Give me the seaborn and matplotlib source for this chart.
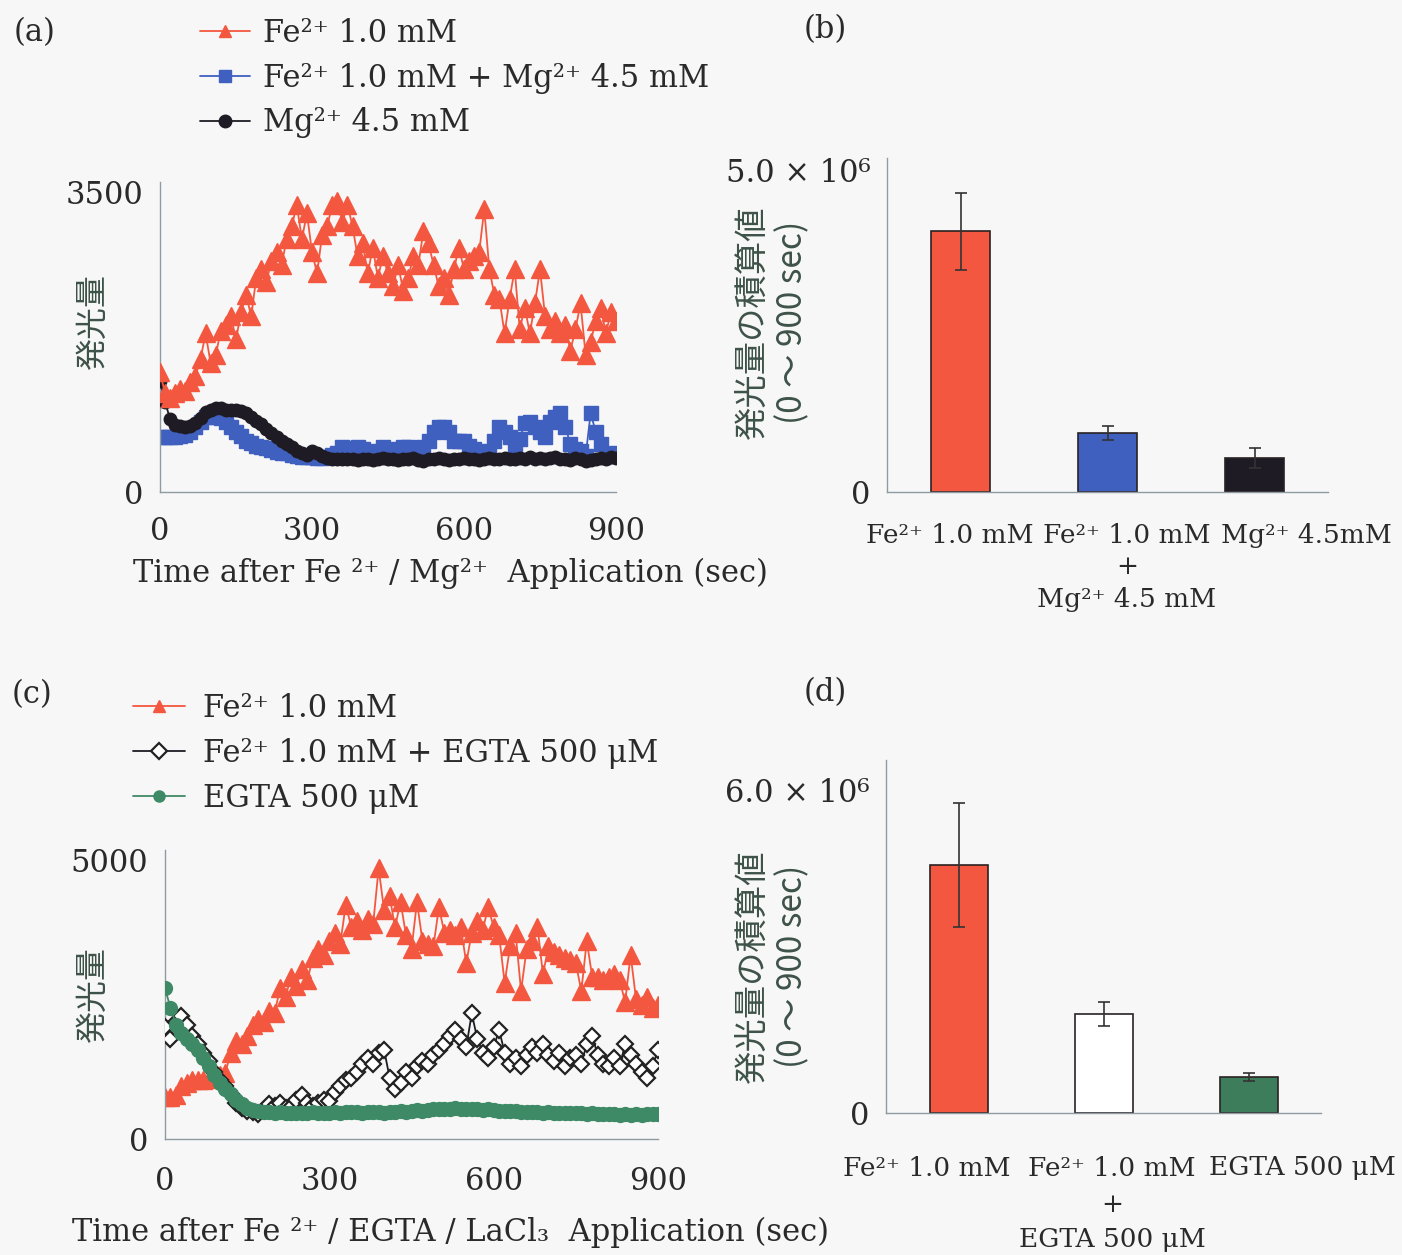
import matplotlib
matplotlib.use('Agg')
import matplotlib.pyplot as plt
import seaborn as sns

# sampling grid (sec)
time_sec = list(range(0, 910, 10))

# panel (a)
fe_a = [1400, 1150, 1100, 1150, 1200, 1180, 1280, 1350, 1550, 1850,
        1500, 1600, 1880, 1950, 2050, 1780, 2100, 2300, 2050, 2500,
        2600, 2450, 2700, 2800, 2650, 2950, 3100, 3350, 2950, 3250,
        2800, 2550, 3000, 3100, 3350, 3400, 3150, 3350, 3100, 2750,
        2900, 2550, 2850, 2500, 2750, 2550, 2400, 2650, 2350, 2500,
        2750, 2650, 3050, 2900, 2650, 2400, 2500, 2300, 2600, 2850,
        2600, 2700, 2750, 2800, 3300, 2600, 2300, 2250, 1850, 2250,
        2600, 1900, 2150, 1850, 2200, 2600, 2050, 1900, 2000, 1850,
        1950, 1650, 1900, 2200, 1600, 1750, 2000, 2150, 1850, 2100,
        2000]
fe_mg_a = [640, 640, 640, 640, 650, 660, 700, 760, 820, 880,
           900, 880, 860, 820, 760, 700, 650, 600, 570, 540,
           520, 510, 490, 470, 460, 450, 430, 420, 410, 410,
           410, 400, 400, 410, 430, 450, 520, 510, 480, 520,
           500, 440, 430, 480, 520, 480, 470, 500, 520, 520,
           460, 430, 520, 600, 700, 760, 760, 700, 600, 600,
           600, 540, 500, 470, 450, 480, 600, 760, 700, 640,
           520, 620, 800, 820, 760, 700, 640, 820, 880, 920,
           760, 560, 500, 480, 420, 920, 700, 560, 420, 430,
           450]
mg_a = [1300, 1050, 850, 780, 770, 760, 770, 800, 860, 930,
        960, 980, 980, 960, 960, 960, 940, 920, 880, 830,
        790, 740, 690, 640, 600, 560, 520, 480, 450, 430,
        480, 460, 420, 400, 390, 390, 380, 380, 380, 370,
        390, 380, 370, 380, 400, 390, 380, 370, 390, 380,
        400, 370, 360, 390, 380, 400, 380, 370, 390, 380,
        400, 390, 380, 370, 390, 400, 380, 390, 400, 390,
        380, 400, 390, 410, 390, 400, 380, 400, 410, 390,
        380, 370, 400, 390, 360, 370, 380, 400, 390, 410,
        400]

# panel (c)
fe_c = [750, 750, 780, 950, 1000, 1050, 1050, 1050, 1080, 1100,
        1150, 1180, 1550, 1750, 1700, 1850, 2050, 2150, 2100, 2300,
        2250, 2700, 2550, 2900, 2750, 3050, 2850, 3250, 3400, 3300,
        3550, 3700, 3500, 4200, 3800, 3900, 3750, 3950, 3850, 4850,
        4100, 4350, 3800, 4250, 3650, 3400, 4250, 3550, 3500, 3450,
        4150, 3700, 3750, 3650, 3800, 3150, 3700, 3900, 3750, 4150,
        3800, 3650, 2800, 3450, 3700, 2650, 3400, 3550, 3800, 2950,
        3450, 3350, 3300, 3250, 3200, 3150, 2650, 3550, 2900, 2900,
        2850, 2900, 2950, 2850, 2450, 3300, 2500, 2400, 2550, 2350,
        2400]
fe_egta_c = [2000, 1800, 2100, 2200, 2050, 1850, 1700, 1550, 1400, 1200,
             1050, 950, 800, 650, 550, 500, 480, 450, 520, 620,
             600, 640, 560, 580, 700, 780, 650, 600, 650, 700,
             680, 850, 950, 1050, 1100, 1200, 1350, 1450, 1350, 1550,
             1600, 1100, 900, 1000, 1200, 1100, 1300, 1400, 1350, 1500,
             1600, 1700, 1850, 1950, 1800, 1650, 2250, 1800, 1550, 1450,
             1650, 1950, 1550, 1350, 1450, 1300, 1500, 1650, 1550, 1700,
             1500, 1400, 1550, 1300, 1450, 1500, 1350, 1700, 1850, 1500,
             1350, 1300, 1450, 1300, 1700, 1500, 1350, 1200, 1100, 1300,
             1600]
egta_c = [2700, 2350, 2050, 1900, 1800, 1700, 1600, 1450, 1300, 1150,
          1000, 900, 800, 700, 620, 560, 520, 500, 490, 480,
          470, 480, 470, 460, 470, 460, 470, 480, 470, 460,
          470, 480, 470, 480, 490, 480, 470, 480, 490, 480,
          470, 480, 490, 500, 490, 500, 520, 510, 520, 530,
          540, 530, 540, 550, 540, 530, 540, 530, 520, 530,
          520, 510, 500, 510, 500, 490, 480, 490, 480, 470,
          480, 470, 460, 470, 460, 470, 460, 450, 460, 450,
          440, 450, 440, 430, 440, 430, 440, 430, 440, 450,
          450]

# bar panels
bar_b_labels = ["Fe²⁺ 1.0 mM", "Fe²⁺ 1.0 mM\n+\nMg²⁺ 4.5 mM", "Mg²⁺ 4.5mM"]
bar_b_vals = [4.05e6, 0.92e6, 0.53e6]
bar_b_err = [0.6e6, 0.11e6, 0.15e6]
bar_d_labels = ["Fe²⁺ 1.0 mM", "Fe²⁺ 1.0 mM\n+\nEGTA 500 μM", "EGTA 500 μM"]
bar_d_vals = [4.61e6, 1.84e6, 0.67e6]
bar_d_err = [1.15e6, 0.23e6, 0.07e6]

RED = '#f4573f'
BLUE = '#4060bf'
BLACK = '#1f1b24'
GREEN = '#3f8a66'
BG = '#f7f7f7'
SPINE = '#8f9ba3'
TXT = '#2a2a2a'
YLAB = '#3d5248'

sns.set_theme(style='white')
plt.rcParams['font.family'] = ['DejaVu Serif', 'DejaVu Sans', 'Noto Sans CJK JP']
plt.rcParams['text.color'] = TXT
plt.rcParams['xtick.color'] = TXT
plt.rcParams['ytick.color'] = TXT

W, H = 1402, 1255
fig = plt.figure(figsize=(W / 100, H / 100), dpi=100, facecolor=BG)


def rect(l, t, r, b):
    return [l / W, 1 - b / H, (r - l) / W, (b - t) / H]


def style_axes(ax):
    ax.set_facecolor('none')
    sns.despine(ax=ax)
    for s in ['left', 'bottom']:
        ax.spines[s].set_color(SPINE)
        ax.spines[s].set_linewidth(1.0)
    ax.tick_params(axis='y', length=0, labelsize=22, pad=12)


def line(ax, y, color, marker, ms, label, z, mfc=None, mec=None, mew=1.0):
    sns.lineplot(x=time_sec, y=y, ax=ax, color=color, marker=marker, markersize=ms,
                 markerfacecolor=mfc or color, markeredgecolor=mec or color,
                 markeredgewidth=mew, linewidth=1.3, label=label, zorder=z)


def bar_labels(labels, xs, y0, pitch):
    # category labels sit slightly off the bar centres in the original figure
    for lab, x in zip(labels, xs):
        for k, row in enumerate(lab.split('\n')):
            fig.text(x / W, 1 - (y0 + k * pitch) / H, row, fontsize=19,
                     ha='center', va='center')


# ---- (a)
ax_a = fig.add_axes(rect(160, 182, 616, 492))
line(ax_a, fe_mg_a, BLUE, 's', 10, "Fe²⁺ 1.0 mM + Mg²⁺ 4.5 mM", 2)
line(ax_a, mg_a, BLACK, 'o', 9, "Mg²⁺ 4.5 mM", 3)
line(ax_a, fe_a, RED, '^', 13, "Fe²⁺ 1.0 mM", 4)
ax_a.set_xlim(0, 900)
ax_a.set_ylim(0, 3617)
ax_a.set_xticks([0, 300, 600, 900])
ax_a.set_yticks([0, 3500])
ax_a.set_xlabel('')
ax_a.set_ylabel('')
style_axes(ax_a)
ax_a.tick_params(axis='x', length=5, direction='inout', color=SPINE, labelsize=22, pad=15)
h, l = ax_a.get_legend_handles_labels()
order = [2, 0, 1]
leg = ax_a.legend([h[i] for i in order], [l[i] for i in order], loc='upper left',
                  bbox_to_anchor=(200 / W, 1 - 18 / H), bbox_transform=fig.transFigure,
                  frameon=False, borderaxespad=0, borderpad=0, fontsize=22,
                  handlelength=1.65, handletextpad=0.4, labelspacing=0.45)
for lh in leg.legend_handles:
    lh.set_markersize(9)

# ---- (b)
ax_b = fig.add_axes(rect(887, 158, 1328, 492))
sns.barplot(x=bar_b_labels, y=bar_b_vals, hue=bar_b_labels, palette=[RED, BLUE, BLACK],
            saturation=1, width=0.4, edgecolor='#2a2222', linewidth=1.2, legend=False, ax=ax_b)
ax_b.errorbar(x=[0, 1, 2], y=bar_b_vals, yerr=bar_b_err, fmt='none', ecolor='#333333',
              elinewidth=1.2, capsize=4, capthick=1.2)
ax_b.set_xlim(-0.5, 2.5)
ax_b.set_ylim(0, 5.186e6)
ax_b.set_yticks([0, 5e6], ['0', '5.0 × 10⁶'])
style_axes(ax_b)
ax_b.set_xticks([0, 1, 2], ['', '', ''])
ax_b.set_xticks([0.5, 1.5, 2.5], minor=True)
ax_b.tick_params(axis='x', which='major', length=0)
ax_b.tick_params(axis='x', which='minor', length=6, direction='inout', color=SPINE)
bar_labels(bar_b_labels, [950, 1127, 1306], 535, 32)

# ---- (c)
ax_c = fig.add_axes(rect(165, 850, 658, 1139))
line(ax_c, fe_c, RED, '^', 13, "Fe²⁺ 1.0 mM", 2)
line(ax_c, fe_egta_c, BLACK, 'D', 8, "Fe²⁺ 1.0 mM + EGTA 500 μM", 3,
     mfc='white', mec='#222222', mew=1.6)
line(ax_c, egta_c, GREEN, 'o', 10, "EGTA 500 μM", 4)
ax_c.set_xlim(0, 900)
ax_c.set_ylim(0, 5179)
ax_c.set_xticks([0, 300, 600, 900])
ax_c.set_yticks([0, 5000])
ax_c.set_xlabel('')
ax_c.set_ylabel('')
style_axes(ax_c)
ax_c.tick_params(axis='x', length=5, direction='inout', color=SPINE, labelsize=22, pad=17)
leg = ax_c.legend(loc='upper left', bbox_to_anchor=(133 / W, 1 - 693 / H),
                  bbox_transform=fig.transFigure, frameon=False, borderaxespad=0,
                  borderpad=0, fontsize=22, handlelength=1.7, handletextpad=0.6,
                  labelspacing=0.45)
for lh in leg.legend_handles:
    lh.set_markersize(8)

# ---- (d)
ax_d = fig.add_axes(rect(886, 760, 1321, 1113))
sns.barplot(x=bar_d_labels, y=bar_d_vals, hue=bar_d_labels, palette=[RED, 'white', '#3d7d5c'],
            saturation=1, width=0.4, edgecolor='#2a2222', linewidth=1.2, legend=False, ax=ax_d)
ax_d.errorbar(x=[0, 1, 2], y=bar_d_vals, yerr=bar_d_err, fmt='none', ecolor='#333333',
              elinewidth=1.2, capsize=4, capthick=1.2)
ax_d.set_xlim(-0.5, 2.5)
ax_d.set_ylim(0, 6.557e6)
ax_d.set_yticks([0, 6e6], ['0', '6.0 × 10⁶'])
style_axes(ax_d)
ax_d.set_xticks([0, 1, 2], ['', '', ''])
ax_d.set_xticks([0.5, 1.5, 2.5], minor=True)
ax_d.tick_params(axis='x', which='major', length=0)
ax_d.tick_params(axis='x', which='minor', length=6, direction='inout', color=SPINE)
bar_labels(bar_d_labels, [927, 1112, 1302], 1168, 36)

# ---- texts
for s, x, y in [('(a)', 35, 33), ('(b)', 825, 30), ('(c)', 32, 695), ('(d)', 825, 693)]:
    fig.text(x / W, 1 - y / H, s, fontsize=22, ha='center', va='center')

fig.text(450 / W, 1 - 573 / H, "Time after Fe ²⁺ / Mg²⁺  Application (sec)",
         fontsize=22, ha='center', va='center')
fig.text(450 / W, 1 - 1232 / H, "Time after Fe ²⁺ / EGTA / LaCl₃  Application (sec)",
         fontsize=22, ha='center', va='center')

cjk = ['Noto Sans CJK JP', 'DejaVu Sans']
fig.text(93 / W, 1 - 322 / H, "発光量", rotation=90, fontsize=23, family=cjk,
         color=YLAB, ha='center', va='center')
fig.text(93 / W, 1 - 995 / H, "発光量", rotation=90, fontsize=23, family=cjk,
         color=YLAB, ha='center', va='center')
for yc in [322, 966]:
    fig.text(752 / W, 1 - yc / H, "発光量の積算値", rotation=90, fontsize=24, family=cjk,
             color=YLAB, ha='center', va='center')
    fig.text(793 / W, 1 - yc / H, "(0 〜 900 sec)", rotation=90, fontsize=24, family=cjk,
             color=YLAB, ha='center', va='center')

fig.savefig('out.png', dpi=100, facecolor=BG)
